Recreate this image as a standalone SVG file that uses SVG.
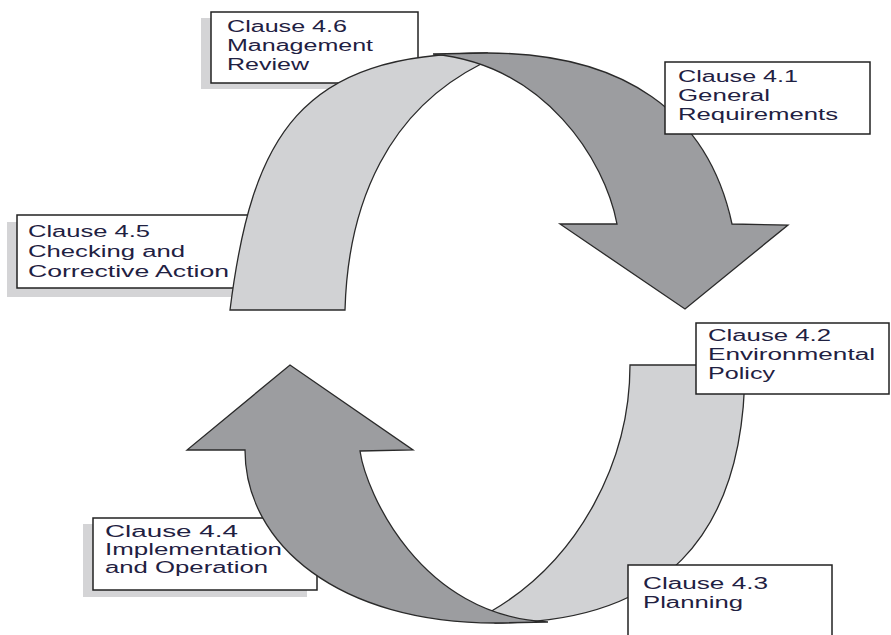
<svg xmlns="http://www.w3.org/2000/svg" width="891" height="635" viewBox="0 0 891 635">
<defs>
<style>
.bg{fill:#ffffff}
.shadow{fill:#d4d4d6}
.box{fill:#ffffff;stroke:#222222;stroke-width:1.5}
.light{fill:#d1d2d4;stroke:#2a2a2a;stroke-width:1.3;stroke-linejoin:miter}
.dark{fill:#9c9da0;stroke:#2a2a2a;stroke-width:1.3;stroke-linejoin:miter}
.lbl{font-family:"Liberation Sans",Arial,sans-serif;font-size:16px;fill:#1f2142}
</style>
</defs>
<rect class="bg" x="0" y="0" width="891" height="635"/>

<g id="node-4-6">
<rect class="shadow" x="201" y="18" width="207" height="71"/>
<rect class="box" x="211" y="12" width="207" height="71"/>
<text class="lbl"><tspan x="227" y="32" textLength="120" lengthAdjust="spacingAndGlyphs">Clause 4.6</tspan><tspan x="227" y="51" textLength="146" lengthAdjust="spacingAndGlyphs">Management</tspan><tspan x="227" y="70" textLength="82" lengthAdjust="spacingAndGlyphs">Review</tspan></text>
</g>

<g id="node-4-5">
<rect class="shadow" x="7" y="222" width="233" height="75"/>
<rect class="box" x="17" y="215" width="233" height="73"/>
<text class="lbl"><tspan x="28" y="237" textLength="122" lengthAdjust="spacingAndGlyphs">Clause 4.5</tspan><tspan x="28" y="257" textLength="157" lengthAdjust="spacingAndGlyphs">Checking and</tspan><tspan x="28" y="277" textLength="201" lengthAdjust="spacingAndGlyphs">Corrective Action</tspan></text>
</g>

<g id="node-4-4">
<rect class="shadow" x="83" y="524" width="224" height="73"/>
<rect class="box" x="93" y="518" width="224" height="72"/>
<text class="lbl"><tspan x="105" y="537" textLength="133" lengthAdjust="spacingAndGlyphs">Clause 4.4</tspan><tspan x="105" y="555" textLength="177" lengthAdjust="spacingAndGlyphs">Implementation</tspan><tspan x="105" y="573" textLength="163" lengthAdjust="spacingAndGlyphs">and Operation</tspan></text>
</g>

<g id="connectors">
<path id="arc-top-light" class="light" d="M230,310 C252,135 300,53 487,53 L481,64 C390,110 348,200 345,310 Z"/>
<path id="arc-top-dark" class="dark" d="M433,54 L487,53 C623,53 708,112 732,224 L788,225 L685,309 L560,224 L617,224 C605,160 545,65 433,54 Z"/>
<path id="arc-bottom-light" class="light" d="M630,365 L745,365 C745,540 660,623 495,623 L490,612 C580,560 630,460 630,365 Z"/>
<path id="arc-bottom-dark" class="dark" d="M548,622 L495,623 C340,623 245,545 245,450 L187,450 L290,365 L413,450 L360,451 C366,492 420,616 548,622 Z"/>
</g>

<g id="node-4-1">
<rect class="box" x="665" y="62" width="205" height="72"/>
<text class="lbl"><tspan x="678" y="82" textLength="120" lengthAdjust="spacingAndGlyphs">Clause 4.1</tspan><tspan x="678" y="101" textLength="92" lengthAdjust="spacingAndGlyphs">General</tspan><tspan x="678" y="120" textLength="160" lengthAdjust="spacingAndGlyphs">Requirements</tspan></text>
</g>

<g id="node-4-2">
<rect class="box" x="696" y="323" width="193" height="71"/>
<text class="lbl"><tspan x="708" y="341" textLength="123" lengthAdjust="spacingAndGlyphs">Clause 4.2</tspan><tspan x="708" y="360" textLength="167" lengthAdjust="spacingAndGlyphs">Environmental</tspan><tspan x="708" y="379" textLength="67" lengthAdjust="spacingAndGlyphs">Policy</tspan></text>
</g>

<g id="node-4-3">
<rect class="box" x="628" y="565" width="204" height="80"/>
<text class="lbl"><tspan x="643" y="589" textLength="125" lengthAdjust="spacingAndGlyphs">Clause 4.3</tspan><tspan x="643" y="608" textLength="100" lengthAdjust="spacingAndGlyphs">Planning</tspan></text>
</g>
</svg>
